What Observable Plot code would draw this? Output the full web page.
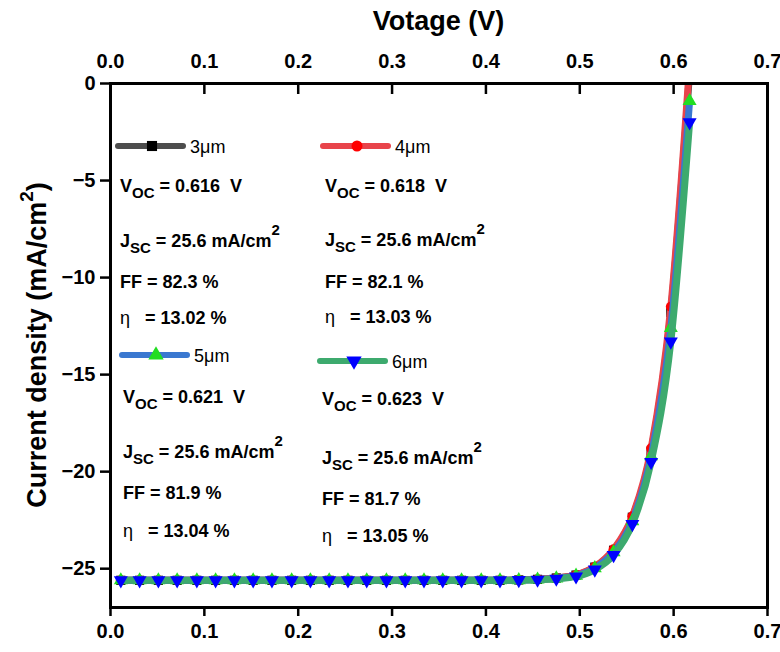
<!DOCTYPE html>
<html>
<head>
<meta charset="utf-8">
<script src="https://cdn.jsdelivr.net/npm/d3@7"></script>
<script src="https://cdn.jsdelivr.net/npm/@observablehq/plot@0.6"></script>
<style>
  body { margin: 0; background: #fff; }
  #chart svg { display: block; }
</style>
</head>
<body>
<div id="chart"></div>
<script>
// J–V sweep: bias voltage (V) and current density (mA/cm²) per absorber thickness
const voltage = [0.011, 0.031, 0.051, 0.071, 0.092, 0.112, 0.132, 0.152, 0.172, 0.193,
                 0.213, 0.233, 0.253, 0.273, 0.294, 0.314, 0.334, 0.354, 0.374, 0.395,
                 0.415, 0.435, 0.455, 0.475, 0.496, 0.516, 0.536, 0.556, 0.576, 0.597, 0.617];

const j3um = [-25.6, -25.6, -25.6, -25.6, -25.6, -25.6, -25.6, -25.6, -25.6, -25.6,
              -25.6, -25.6, -25.6, -25.6, -25.6, -25.6, -25.6, -25.6, -25.6, -25.6,
              -25.6, -25.58, -25.55, -25.48, -25.33, -24.92, -24.05, -22.35, -18.95, -11.8, 0.6];
const j4um = [-25.6, -25.6, -25.6, -25.6, -25.6, -25.6, -25.6, -25.6, -25.6, -25.6,
              -25.6, -25.6, -25.6, -25.6, -25.6, -25.6, -25.6, -25.6, -25.6, -25.6,
              -25.6, -25.58, -25.55, -25.48, -25.32, -24.9, -24.0, -22.3, -18.8, -11.5, 1.0];
const j5um = [-25.6, -25.6, -25.6, -25.6, -25.6, -25.6, -25.6, -25.6, -25.6, -25.6,
              -25.6, -25.6, -25.6, -25.6, -25.6, -25.6, -25.6, -25.6, -25.6, -25.6,
              -25.6, -25.59, -25.56, -25.5, -25.36, -24.97, -24.15, -22.55, -19.2, -12.6, -0.9];
const j6um = [-25.6, -25.6, -25.6, -25.6, -25.6, -25.6, -25.6, -25.6, -25.6, -25.6,
              -25.6, -25.6, -25.6, -25.6, -25.6, -25.6, -25.6, -25.6, -25.6, -25.6,
              -25.6, -25.59, -25.57, -25.52, -25.4, -25.05, -24.3, -22.7, -19.5, -13.3, -2.0];

const thickness = ["3\u03bcm", "4\u03bcm", "5\u03bcm", "6\u03bcm"];
const vocValues = ["0.616", "0.618", "0.621", "0.623"];
const jscValues = ["25.6", "25.6", "25.6", "25.6"];
const ffValues = ["82.3", "82.1", "81.9", "81.7"];
const etaValues = ["13.02", "13.03", "13.04", "13.05"];

const xTicks = [0, 0.1, 0.2, 0.3, 0.4, 0.5, 0.6, 0.7];
const yTicks = [0, -5, -10, -15, -20, -25];

// Line and marker styling for each thickness
const styles = [
  { j: j3um, line: "#4d4d4d", fill: "#000000", symbol: "square",   rotate: 0,   r: 5.2 },
  { j: j4um, line: "#e8444b", fill: "#ff0000", symbol: "circle",   rotate: 0,   r: 5 },
  { j: j5um, line: "#3a78d0", fill: "#22dd22", symbol: "triangle", rotate: 0,   r: 5.2 },
  { j: j6um, line: "#3daa6e", fill: "#0000ff", symbol: "triangle", rotate: 180, r: 5.2 }
];

const rows = styles.flatMap((s, k) =>
  voltage.map((v, i) => ({ series: thickness[k], v, j: s.j[i] })));

const curveMarks = styles.flatMap((s, k) => {
  const d = rows.filter(r => r.series === thickness[k]);
  return [
    Plot.line(d, { x: "v", y: "j", stroke: s.line, strokeWidth: 7, curve: "monotone-x", clip: true }),
    Plot.dot(d, { x: "v", y: "j", symbol: s.symbol, r: s.r, fill: s.fill, stroke: "none", rotate: s.rotate, clip: true })
  ];
});

const chart = Plot.plot({
  width: 780,
  height: 652,
  marginLeft: 110,
  marginRight: 13,
  marginTop: 83,
  marginBottom: 45,
  x: { domain: [0, 0.7] },
  y: { domain: [-27, 0] },
  style: { fontFamily: "'Liberation Sans', Arial, sans-serif", fontSize: "20px", fontWeight: "bold", color: "#000", background: "#fff" },
  marks: [
    ...curveMarks,
    Plot.frame({ stroke: "#000", strokeWidth: 3 }),
    Plot.axisX({ anchor: "top", ticks: xTicks, tickFormat: d3.format(".1f"), tickSize: -10, tickPadding: 26, strokeWidth: 2.5, label: null }),
    Plot.axisX({ anchor: "bottom", ticks: xTicks, tickFormat: d3.format(".1f"), tickSize: 9, tickPadding: 7, strokeWidth: 2.5, label: null }),
    Plot.axisY({ anchor: "left", ticks: yTicks, tickSize: 10, tickPadding: 5, strokeWidth: 2.5, label: null })
  ]
});

document.getElementById("chart").append(chart);

const svg = d3.select(chart);
const font = "'Liberation Sans', Arial, sans-serif";

// Axis titles
svg.append("text")
  .attr("x", 438.5).attr("y", 21)
  .attr("text-anchor", "middle").attr("dominant-baseline", "central")
  .style("font", `bold 27px ${font}`)
  .text("Votage (V)");

const yTitle = svg.append("text")
  .attr("transform", "translate(37,345) rotate(-90)")
  .attr("text-anchor", "middle").attr("dominant-baseline", "central")
  .style("font", `bold 27px ${font}`);
yTitle.append("tspan").text("Current density (mA/cm");
yTitle.append("tspan").attr("dy", -11).style("font-size", "19px").text("2");
yTitle.append("tspan").attr("dy", 11).text(")");

// Legend entries with device parameters
const legendLayout = [
  { sx: 118, sy: 146, tx: 120, base: [192, 247, 288, 324] },
  { sx: 323, sy: 146, tx: 325, base: [192, 246, 288, 323] },
  { sx: 122, sy: 355, tx: 123, base: [403, 458, 499, 537] },
  { sx: 320, sy: 361, tx: 322, base: [405, 464, 505, 542] }
];

const symbolTypes = { square: d3.symbolSquare, circle: d3.symbolCircle, triangle: d3.symbolTriangle };

legendLayout.forEach((L, k) => {
  const s = styles[k];
  const g = svg.append("g")
    .attr("text-anchor", "start")
    .style("font-family", font)
    .style("white-space", "pre");
  g.append("line")
    .attr("x1", L.sx).attr("x2", L.sx + 65).attr("y1", L.sy).attr("y2", L.sy)
    .attr("stroke", s.line).attr("stroke-width", 6).attr("stroke-linecap", "round");
  g.append("path")
    .attr("d", d3.symbol(symbolTypes[s.symbol], Math.PI * (s.r + 0.5) ** 2)())
    .attr("transform", `translate(${L.sx + 34},${L.sy}) rotate(${s.rotate})`)
    .attr("fill", s.fill);
  g.append("text")
    .attr("x", L.sx + 72).attr("y", L.sy + 1)
    .attr("dominant-baseline", "central")
    .style("font-size", "18px").style("font-weight", "normal")
    .text(thickness[k]);

  const voc = g.append("text").attr("x", L.tx).attr("y", L.base[0])
    .style("font-size", "18px").style("font-weight", "bold");
  voc.append("tspan").text("V");
  voc.append("tspan").attr("dy", 6).style("font-size", "15px").text("OC");
  voc.append("tspan").attr("dy", -6).text(` = ${vocValues[k]}  V`);

  const jsc = g.append("text").attr("x", L.tx).attr("y", L.base[1])
    .style("font-size", "18px").style("font-weight", "bold");
  jsc.append("tspan").text("J");
  jsc.append("tspan").attr("dy", 6).style("font-size", "15px").text("SC");
  jsc.append("tspan").attr("dy", -6).text(` = ${jscValues[k]} mA/cm`);
  jsc.append("tspan").attr("dy", -12).style("font-size", "15px").text("2");

  g.append("text").attr("x", L.tx).attr("y", L.base[2])
    .style("font-size", "18px").style("font-weight", "bold")
    .text(`FF = ${ffValues[k]} %`);

  const eta = g.append("text").attr("x", L.tx).attr("y", L.base[3])
    .style("font-size", "18px").style("font-weight", "bold");
  eta.append("tspan").style("font-weight", "normal").text("\u03b7");
  eta.append("tspan").text(`   = ${etaValues[k]} %`);
});
</script>
</body>
</html>
